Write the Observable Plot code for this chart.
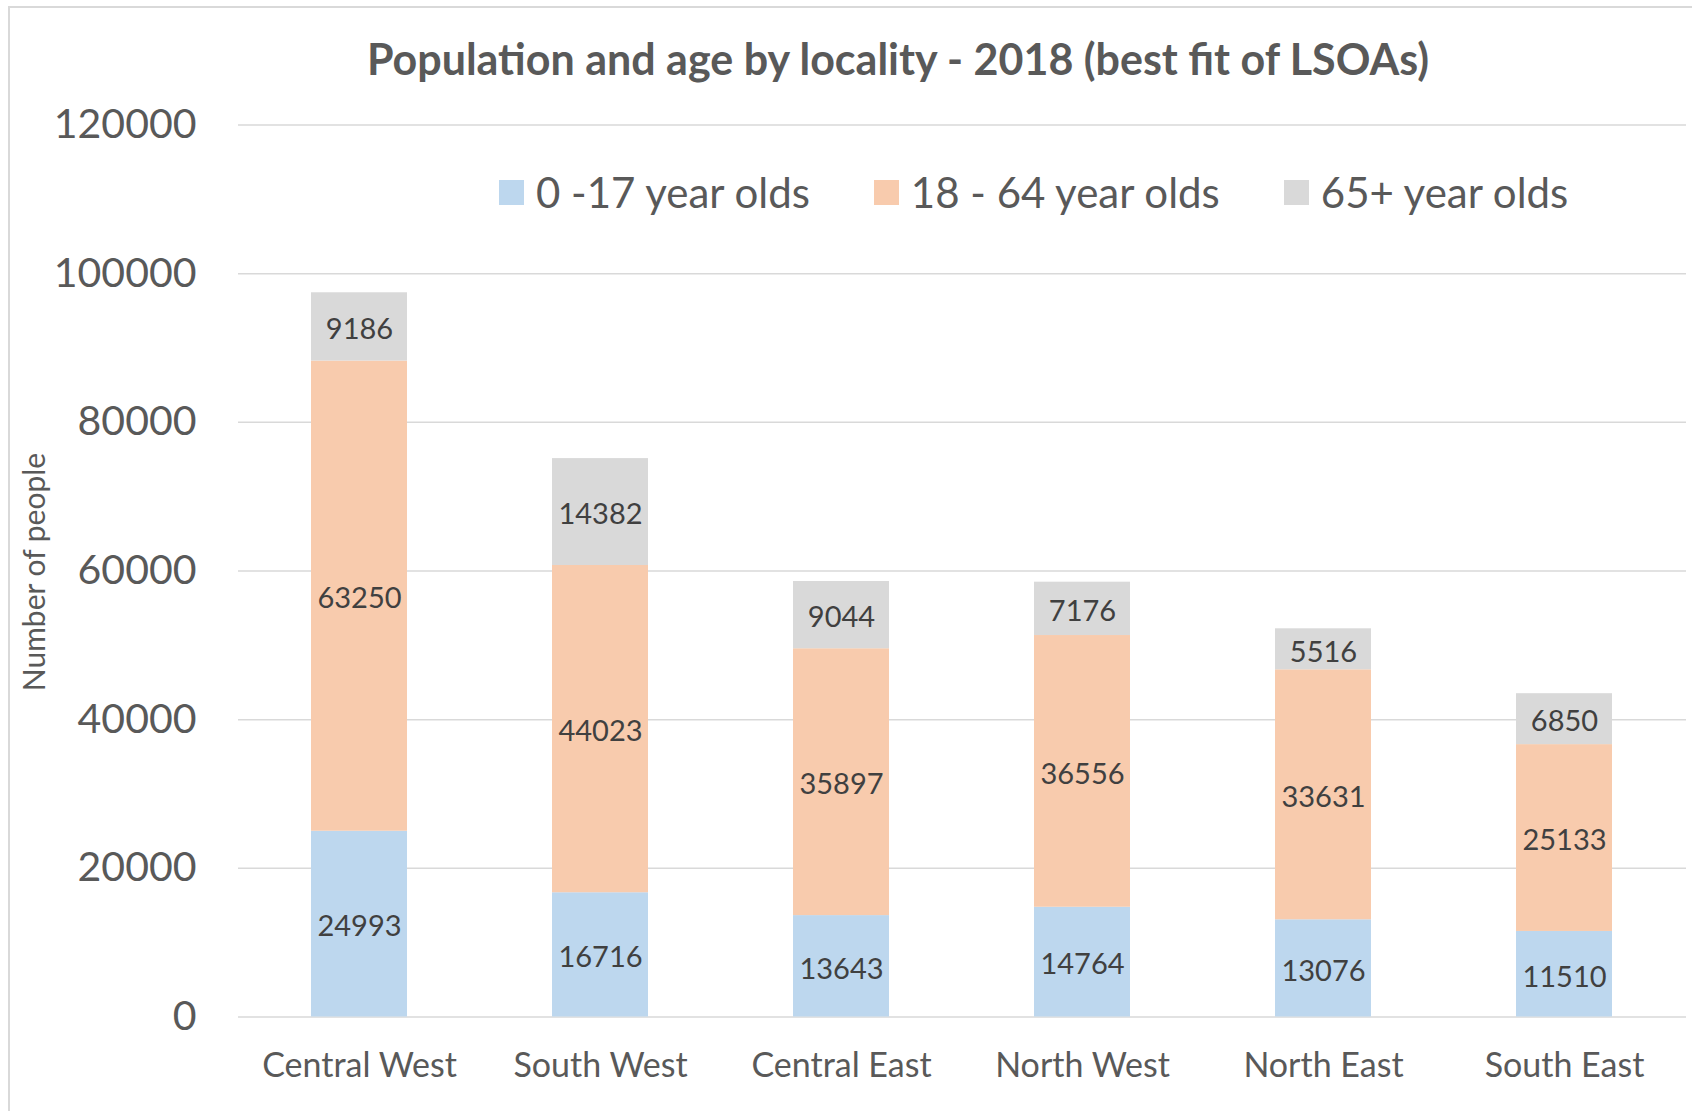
<!DOCTYPE html>
<html><head><meta charset="utf-8">
<script src="https://cdn.jsdelivr.net/npm/d3@7"></script>
<script src="https://cdn.jsdelivr.net/npm/@observablehq/plot@0.6"></script>
<style>
body{margin:0;background:#fff;font-family:Lato,"Open Sans",sans-serif;}
#wrap{position:relative;width:1692px;height:1111px;overflow:hidden;background:#fff;}
#frame{position:absolute;left:8px;top:6px;width:1700px;height:1120px;border-left:2px solid #d9d9d9;border-top:2px solid #d9d9d9;pointer-events:none;}
#title{box-sizing:border-box;height:100px;padding-top:34px;line-height:50px;text-align:center;font-weight:bold;font-size:43px;color:#595959;padding-left:104px;white-space:nowrap;}
#legend{position:absolute;left:499px;top:167px;display:flex;align-items:center;font-size:42px;line-height:50px;color:#595959;white-space:nowrap;}
#legend .item{display:flex;align-items:center;margin-right:64px;}
#legend .sw{width:25px;height:25px;margin-right:12px;}
#ylabel{position:absolute;left:33px;top:572px;transform:translate(-50%,-50%) rotate(-90deg);font-size:30px;color:#595959;white-space:nowrap;}
</style>
</head><body>
<div id="wrap">
  <div id="title">Population and age by locality - 2018 (best fit of LSOAs)</div>
  <div id="chart"></div>
  <div id="legend"></div>
  <div id="ylabel">Number of people</div>
  <div id="frame"></div>
</div>
<script>
const localities = ["Central West","South West","Central East","North West","North East","South East"];
const age0to17 = [24993,16716,13643,14764,13076,11510];
const age18to64 = [63250,44023,35897,36556,33631,25133];
const age65plus = [9186,14382,9044,7176,5516,6850];
const groups = ["0 -17 year olds","18 - 64 year olds","65+ year olds"];
const colors = ["#BDD7EE","#F8CBAD","#D9D9D9"];
const yTicks = [0,20000,40000,60000,80000,100000,120000];

const series = [age0to17, age18to64, age65plus];
const data = [];
localities.forEach((loc,i)=>{
  groups.forEach((g,j)=>{ data.push({locality:loc, group:g, value:series[j][i]}); });
});

const chart = Plot.plot({
  width:1692, height:1011,
  marginLeft:238, marginRight:6, marginTop:24.5, marginBottom:94.5,
  style:{fontFamily:"Lato, 'Open Sans', sans-serif", background:"transparent", overflow:"visible"},
  x:{domain:localities, paddingInner:0.6, paddingOuter:0.3, label:null},
  y:{domain:[0,120000], label:null},
  color:{domain:groups, range:colors},
  marks:[
    Plot.gridY(yTicks,{stroke:"#d9d9d9", strokeOpacity:1, strokeWidth:1.5}),
    Plot.barY(data, Plot.stackY({x:"locality", y:"value", fill:"group", z:"group"})),
    Plot.text(data, Plot.stackY({x:"locality", y:"value", z:"group", text:d=>String(d.value), fill:"#404040", fontSize:29, dy:3})),
    Plot.axisY(yTicks,{tickSize:0, tickPadding:42, fontSize:41, fill:"#595959", tickFormat:d=>String(d), label:null}),
    Plot.axisX({tickSize:0, tickPadding:36, fontSize:34, fill:"#595959", label:null})
  ]
});
document.getElementById("chart").appendChild(chart);

const legend = document.getElementById("legend");
groups.forEach((g,j)=>{
  const item = document.createElement("div"); item.className="item";
  const sw = document.createElement("span"); sw.className="sw"; sw.style.background=colors[j];
  const t = document.createElement("span"); t.textContent=g;
  item.appendChild(sw); item.appendChild(t); legend.appendChild(item);
});
</script>
</body></html>
